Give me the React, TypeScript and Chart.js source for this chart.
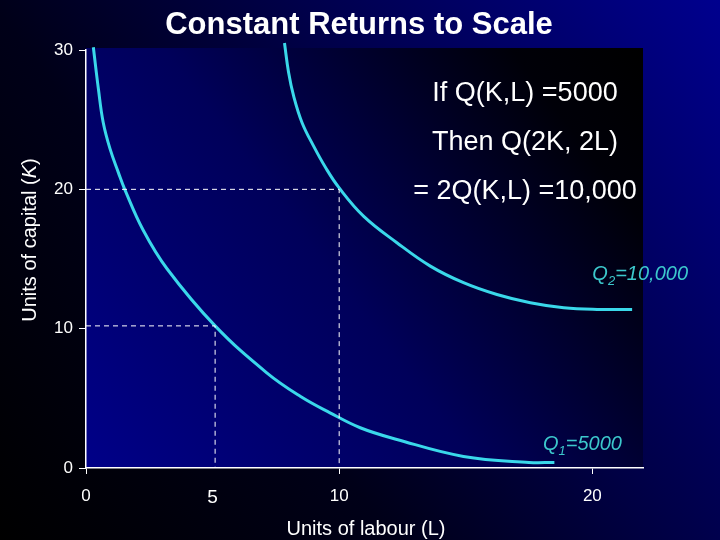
import React, { useEffect, useRef } from "react";
import { Chart, registerables } from "chart.js";

Chart.register(...registerables);

// ---- data ----
const q1Labour = [0.29, 0.49, 0.68, 0.95, 1.28, 1.53, 2.25, 3.2, 5.1, 7.14, 8.46, 9.64, 10.83, 12.28, 14.91, 17.5, 18.5];
const q1Capital = [30.2, 27.2, 24.8, 22.9, 21.2, 20.0, 17.1, 14.3, 10.2, 6.83, 5.15, 3.96, 2.89, 2.05, 0.83, 0.4, 0.4];
const q2Labour = [7.84, 8.0, 8.2, 8.53, 8.99, 9.45, 10.0, 10.96, 12.28, 13.6, 14.91, 16.23, 17.55, 18.87, 20.19, 21.57];
const q2Capital = [30.5, 28.4, 26.7, 24.8, 23.1, 21.6, 20.1, 18.08, 16.17, 14.49, 13.3, 12.45, 11.86, 11.5, 11.38, 11.38];
const guide1Labour = [0, 5.1, 5.1];
const guide1Capital = [10.2, 10.2, 0];
const guide2Labour = [0, 10, 10];
const guide2Capital = [20, 20, 0];
const xTickValues = [0, 5, 10, 20];
const yTickValues = [0, 10, 20, 30];
const xMax = 22;
const yMax = 30;

const titleText = "Constant Returns to Scale";
const xTitle = "Units of labour (L)";
const yTitleParts = ["Units of capital (", "K", ")"];
const noteLines = ["If Q(K,L) =5000", "Then Q(2K, 2L)", "= 2Q(K,L) =10,000"];
const q1Label = ["Q", "1", "=5000"];
const q2Label = ["Q", "2", "=10,000"];
const q1LabelAt = [18.05, 1.3];
const q2LabelAt = [20.0, 13.5];

const CURVE = "#3ad8ea";
const LABEL = "#3cc8cc";
const SANS = "'Liberation Sans', Arial, sans-serif";
const NARROW = "'Liberation Sans Narrow', 'Liberation Sans', Arial, sans-serif";

const pts = (xs: number[], ys: number[]) => xs.map((x, i) => ({ x, y: ys[i] }));

const bgPlugin = {
  id: "bgPlugin",
  beforeDraw(chart: any) {
    const { ctx, width, height, chartArea } = chart;
    ctx.save();
    const g = ctx.createLinearGradient(0, height, width, 0);
    g.addColorStop(0, "#000000");
    g.addColorStop(0.35, "#000018");
    g.addColorStop(1, "#00008e");
    ctx.fillStyle = g;
    ctx.fillRect(0, 0, width, height);
    const { left, right, top, bottom } = chartArea;
    const g2 = ctx.createLinearGradient(left, bottom, right, top);
    g2.addColorStop(0, "#000088");
    g2.addColorStop(0.45, "#00005a");
    g2.addColorStop(0.85, "#000008");
    g2.addColorStop(1, "#000000");
    ctx.fillStyle = g2;
    ctx.fillRect(left, top - 2, right - left, bottom - top + 2);
    ctx.restore();
  },
};

function drawSubLabel(ctx: any, parts: string[], x: number, y: number) {
  ctx.fillStyle = LABEL;
  ctx.textAlign = "left";
  ctx.textBaseline = "alphabetic";
  ctx.font = `italic 20px ${SANS}`;
  ctx.fillText(parts[0], x, y);
  let cx = x + ctx.measureText(parts[0]).width;
  ctx.font = `italic 13px ${SANS}`;
  ctx.fillText(parts[1], cx, y + 5);
  cx += ctx.measureText(parts[1]).width;
  ctx.font = `italic 20px ${SANS}`;
  ctx.fillText(parts[2], cx, y);
}

const textPlugin = {
  id: "textPlugin",
  afterDraw(chart: any) {
    const { ctx } = chart;
    const xs = chart.scales.x;
    const ys = chart.scales.y;
    ctx.save();
    ctx.fillStyle = "#ffffff";
    ctx.textAlign = "center";
    ctx.textBaseline = "alphabetic";
    ctx.font = `bold 31px ${SANS}`;
    ctx.fillText(titleText, 359, 34);
    ctx.font = `27px ${SANS}`;
    const noteY = [101, 150, 199];
    noteLines.forEach((t, i) => ctx.fillText(t, 525, noteY[i]));
    ctx.font = `20px ${SANS}`;
    ctx.fillText(xTitle, 366, 535);
    ctx.save();
    ctx.translate(36, 240);
    ctx.rotate(-Math.PI / 2);
    ctx.font = `20px ${SANS}`;
    const w0 = ctx.measureText(yTitleParts[0]).width;
    ctx.font = `italic 20px ${SANS}`;
    const w1 = ctx.measureText(yTitleParts[1]).width;
    ctx.font = `20px ${SANS}`;
    const w2 = ctx.measureText(yTitleParts[2]).width;
    let sx = -(w0 + w1 + w2) / 2;
    ctx.textAlign = "left";
    ctx.fillText(yTitleParts[0], sx, 0);
    sx += w0;
    ctx.font = `italic 20px ${SANS}`;
    ctx.fillText(yTitleParts[1], sx, 0);
    sx += w1;
    ctx.font = `20px ${SANS}`;
    ctx.fillText(yTitleParts[2], sx, 0);
    ctx.restore();
    drawSubLabel(ctx, q2Label, xs.getPixelForValue(q2LabelAt[0]), ys.getPixelForValue(q2LabelAt[1]));
    drawSubLabel(ctx, q1Label, xs.getPixelForValue(q1LabelAt[0]), ys.getPixelForValue(q1LabelAt[1]));
    ctx.restore();
  },
};

export default function App() {
  const ref = useRef<HTMLCanvasElement | null>(null);
  useEffect(() => {
    document.body.style.margin = "0";
    if (!ref.current) return;
    const curve = (data: any) => ({
      data,
      showLine: true,
      borderColor: CURVE,
      borderWidth: 3,
      pointRadius: 0,
      tension: 0.4,
      fill: false,
      clip: false,
    });
    const guide = (data: any) => ({
      data,
      showLine: true,
      borderColor: "#ffffff",
      borderWidth: 1,
      borderDash: [5, 4],
      pointRadius: 0,
      tension: 0,
      fill: false,
    });
    const chart = new Chart(ref.current, {
      type: "scatter",
      data: {
        datasets: [
          guide(pts(guide1Labour, guide1Capital)),
          guide(pts(guide2Labour, guide2Capital)),
          curve(pts(q1Labour, q1Capital)),
          curve(pts(q2Labour, q2Capital)),
        ] as any,
      },
      options: {
        responsive: false,
        animation: false,
        devicePixelRatio: 1,
        layout: { padding: { top: 50, right: 77, left: 0, bottom: 0 } },
        plugins: {
          legend: { display: false },
          tooltip: { enabled: false },
          title: { display: false },
        },
        scales: {
          x: {
            type: "linear",
            min: 0,
            max: xMax,
            afterBuildTicks: (s: any) => {
              s.ticks = xTickValues.map((v) => ({ value: v }));
            },
            afterFit: (s: any) => {
              s.height = 72;
            },
            ticks: {
              color: "#ffffff",
              padding: 12,
              maxRotation: 0,
              autoSkip: false,
              callback: (v: any) => String(v),
              font: (c: any) =>
                c.tick && c.tick.value === 5
                  ? { family: SANS, size: 19 }
                  : { family: NARROW, size: 17 },
            },
            grid: {
              drawOnChartArea: false,
              drawTicks: true,
              tickLength: 6,
              color: "#ffffff",
              tickColor: (c: any) =>
                c.tick && c.tick.value === 5 ? "rgba(0,0,0,0)" : "#ffffff",
            },
            border: { color: "#ffffff", width: 1.5 },
          },
          y: {
            type: "linear",
            min: 0,
            max: yMax,
            afterBuildTicks: (s: any) => {
              s.ticks = yTickValues.map((v) => ({ value: v }));
            },
            afterFit: (s: any) => {
              s.width = 86;
            },
            ticks: {
              color: "#ffffff",
              padding: 6,
              autoSkip: false,
              callback: (v: any) => String(v),
              font: { family: NARROW, size: 17 },
            },
            grid: {
              drawOnChartArea: false,
              drawTicks: true,
              tickLength: 7,
              color: "#ffffff",
            },
            border: { color: "#ffffff", width: 1.5 },
          },
        },
      } as any,
      plugins: [bgPlugin, textPlugin],
    });
    return () => chart.destroy();
  }, []);
  return (
    <div style={{ position: "absolute", left: 0, top: 0, width: 720, height: 540 }}>
      <canvas ref={ref} width={720} height={540} />
    </div>
  );
}
